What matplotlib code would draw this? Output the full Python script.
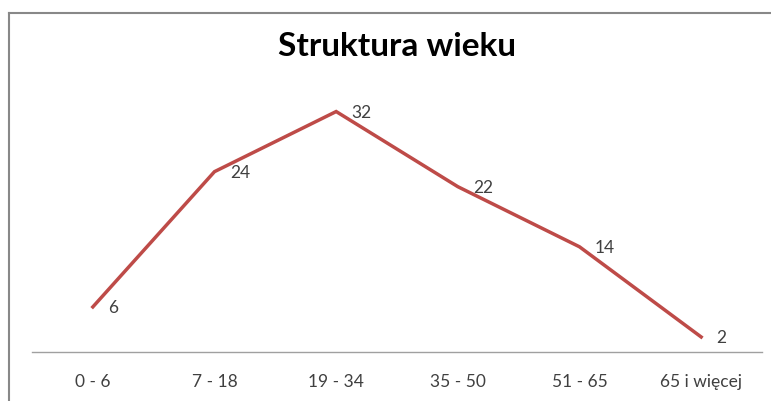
import matplotlib.pyplot as plt
from matplotlib.lines import Line2D

# data
categories = ["0 - 6", "7 - 18", "19 - 34", "35 - 50", "51 - 65", "65 i więcej"]
values = [6, 24, 32, 22, 14, 2]

plt.rcParams['font.family'] = ['Lato', 'DejaVu Sans']

fig = plt.figure(figsize=(7.71, 4.01), dpi=100)
ax = fig.add_axes([32 / 771, 49 / 401, 730 / 771, 263 / 401])

x = list(range(len(categories)))
ax.plot(x, values, color='#BE4B48', lw=2.5, solid_joinstyle='miter')

# data labels to the right of each point
for xi, v in zip(x, values):
    ax.annotate(str(v), (xi, v), xytext=(11, -1), textcoords='offset points',
                va='center', ha='left', fontsize=12.5, color='#404040')

ax.set_xlim(-0.5, len(categories) - 0.5)
ax.set_ylim(0, 35)
ax.set_xticks(x)
ax.set_xticklabels(categories, fontsize=12.5, color='#404040')
ax.tick_params(axis='x', length=0, pad=16)
ax.set_yticks([])
for s in ['top', 'right', 'left']:
    ax.spines[s].set_visible(False)
ax.spines['bottom'].set_color('#A0A0A0')
ax.spines['bottom'].set_linewidth(1)

fig.text(397 / 771, 1 - 47 / 401, "Struktura wieku", ha='center', va='center',
         fontsize=24, fontweight='bold', color='black')

# chart frame (only top and left edges fall inside the image)
fig.add_artist(Line2D([9 / 771, 1], [1 - 13 / 401, 1 - 13 / 401],
                      transform=fig.transFigure, color='#888888', lw=1.5))
fig.add_artist(Line2D([9 / 771, 9 / 771], [0, 1 - 13 / 401],
                      transform=fig.transFigure, color='#888888', lw=1.5))

fig.savefig('out.png', dpi=100)
